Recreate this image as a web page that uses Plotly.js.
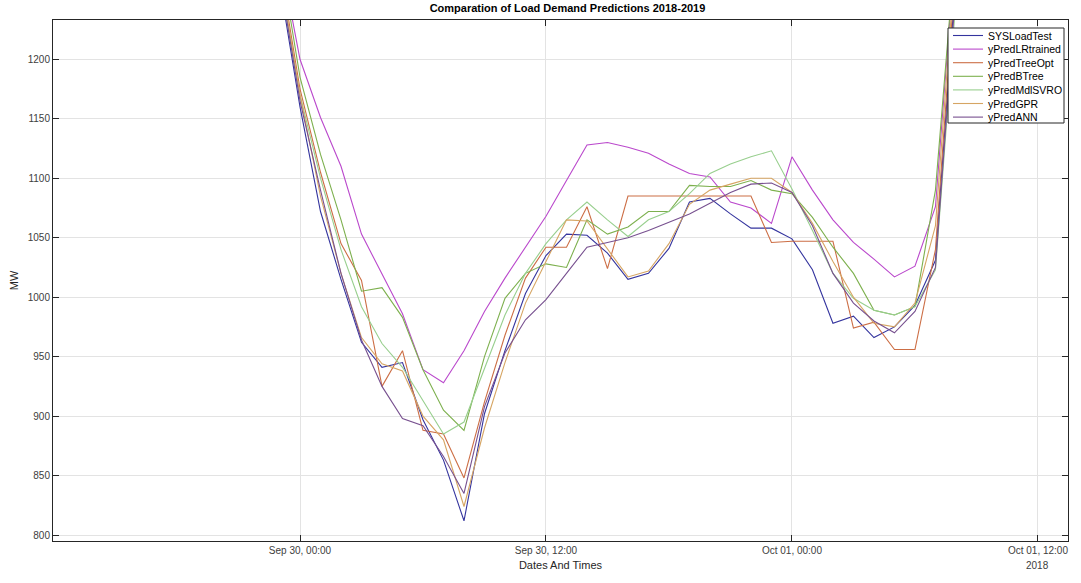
<!DOCTYPE html>
<html>
<head>
<meta charset="utf-8">
<script src="https://cdn.plot.ly/plotly-3.0.1.min.js"></script>
<style>
html,body{margin:0;padding:0;background:#fff;}
#chart{width:1081px;height:583px;}
</style>
</head>
<body>
<div id="chart"></div>
<script>
// Hourly timestamps
var times = ['2018-09-29 23:00','2018-09-30 00:00','2018-09-30 01:00','2018-09-30 02:00','2018-09-30 03:00','2018-09-30 04:00','2018-09-30 05:00','2018-09-30 06:00','2018-09-30 07:00','2018-09-30 08:00','2018-09-30 09:00','2018-09-30 10:00','2018-09-30 11:00','2018-09-30 12:00','2018-09-30 13:00','2018-09-30 14:00','2018-09-30 15:00','2018-09-30 16:00','2018-09-30 17:00','2018-09-30 18:00','2018-09-30 19:00','2018-09-30 20:00','2018-09-30 21:00','2018-09-30 22:00','2018-09-30 23:00','2018-10-01 00:00','2018-10-01 01:00','2018-10-01 02:00','2018-10-01 03:00','2018-10-01 04:00','2018-10-01 05:00','2018-10-01 06:00','2018-10-01 07:00','2018-10-01 08:00'];

var sysLoadTest  = [1265,1160,1072,1015,962,941,945,897,863,812,902,955,1003,1035,1053,1052,1037,1015,1020,1041,1080,1083,1070,1058,1058,1049,1023,978,984,966,975,993,1031,1270];
var yPredLRtrained = [1290,1200,1151,1110,1053,1020,986,939,928,955,988,1016,1042,1068,1098,1128,1130,1126,1121,1112,1104,1101,1080,1075,1062,1118,1090,1065,1046,1032,1017,1026,1076,1300];
var yPredTreeOpt = [1280,1175,1105,1045,1014,925,955,888,885,848,912,968,1016,1042,1042,1076,1024,1085,1085,1085,1085,1085,1085,1085,1046,1047,1047,1047,974,979,956,956,1040,1280];
var yPredBTree   = [1290,1185,1120,1065,1005,1008,983,939,905,888,950,999,1020,1028,1025,1065,1053,1059,1072,1072,1094,1093,1093,1098,1090,1087,1067,1042,1020,989,985,992,1090,1300];
var yPredMdlSVRO = [1270,1170,1100,1040,992,961,941,913,885,895,940,985,1020,1045,1065,1080,1065,1051,1065,1072,1087,1104,1112,1118,1123,1091,1056,1020,999,989,985,992,1023,1250];
var yPredGPR     = [1275,1170,1085,1020,966,944,938,900,880,824,890,945,995,1030,1065,1064,1040,1017,1022,1045,1078,1090,1095,1100,1100,1088,1062,1030,1000,978,975,995,1060,1290];
var yPredANN     = [1270,1165,1090,1020,964,925,898,892,866,835,908,953,981,998,1020,1042,1046,1050,1056,1063,1070,1079,1088,1095,1096,1088,1060,1020,995,980,970,988,1025,1260];

var seriesNames = ['SYSLoadTest','yPredLRtrained','yPredTreeOpt','yPredBTree','yPredMdlSVRO','yPredGPR','yPredANN'];
var seriesData  = [sysLoadTest,yPredLRtrained,yPredTreeOpt,yPredBTree,yPredMdlSVRO,yPredGPR,yPredANN];
var seriesColors = ['#34349E','#BA48CC','#CC6E45','#7DB04E','#98CF8E','#D6A563','#77508F'];

var xTickVals = ['2018-09-30 00:00','2018-09-30 12:00','2018-10-01 00:00','2018-10-01 12:00'];
var xTickText = ['Sep 30, 00:00','Sep 30, 12:00','Oct 01, 00:00','Oct 01, 12:00'];
var yTickVals = [800,850,900,950,1000,1050,1100,1150,1200];

var traces = seriesNames.map(function(n,i){
  return {x: times, y: seriesData[i], name: n, type:'scatter', mode:'lines',
          line:{color: seriesColors[i], width:1.1}, showlegend:false};
});

// plot-area geometry (pixels) used to place a compact MATLAB-style legend
var M = {l:53, r:13, t:20, b:42};
var W = 1081, H = 583;
var pw = W - M.l - M.r, ph = H - M.t - M.b;
function px(x){ return (x - M.l) / pw; }
function py(y){ return 1 - (y - M.t) / ph; }

var font = "Liberation Sans, Arial, Helvetica, sans-serif";
var leg = {x0:948, x1:1064, y0:28, y1:123, row0:35.5, rowStep:13.6, s0:953, s1:983, tx:986};
var shapes = [{type:'rect', xref:'paper', yref:'paper', x0:px(leg.x0), x1:px(leg.x1), y0:py(leg.y1), y1:py(leg.y0),
  fillcolor:'#ffffff', line:{color:'#262626', width:1}, layer:'above'}];
var annotations = [{text:'2018', xref:'paper', yref:'paper', x:0.97, y:0, xanchor:'center', yanchor:'top', yshift:-17, showarrow:false, font:{family:font, size:10, color:'#404040'}}];
seriesNames.forEach(function(n,i){
  var ry = leg.row0 + i*leg.rowStep;
  shapes.push({type:'line', xref:'paper', yref:'paper', x0:px(leg.s0), x1:px(leg.s1), y0:py(ry), y1:py(ry),
    line:{color:seriesColors[i], width:1.1}, layer:'above'});
  annotations.push({text:n, xref:'paper', yref:'paper', x:px(leg.tx), y:py(ry), xanchor:'left', yanchor:'middle',
    showarrow:false, font:{family:font, size:10.5, color:'#000'}});
});

var layout = {
  width:W, height:H,
  margin:M,
  paper_bgcolor:'#ffffff', plot_bgcolor:'#ffffff',
  font:{family:font, size:10, color:'#404040'},
  title:{text:'<b>Comparation of Load Demand Predictions 2018-2019</b>', x:0.525, xanchor:'center', y:0.986, yanchor:'middle', font:{family:font, size:11, color:'#000'}},
  xaxis:{
    type:'date', range:['2018-09-29 11:57','2018-10-01 13:28'],
    tickvals:xTickVals, ticktext:xTickText,
    showgrid:true, gridcolor:'#e3e3e3', gridwidth:1,
    showline:true, linecolor:'#262626', linewidth:1, mirror:'ticks',
    ticks:'inside', ticklen:6, tickcolor:'#262626',
    tickfont:{family:font, size:10, color:'#404040'},
    zeroline:false,
    title:{text:'Dates And Times', font:{family:font, size:11, color:'#262626'}, standoff:6}
  },
  yaxis:{
    range:[795,1233],
    tickvals:yTickVals,
    showgrid:true, gridcolor:'#e3e3e3', gridwidth:1,
    showline:true, linecolor:'#262626', linewidth:1, mirror:'ticks',
    ticks:'inside', ticklen:6, tickcolor:'#262626',
    tickfont:{family:font, size:10, color:'#404040'},
    zeroline:false,
    title:{text:'MW', font:{family:font, size:11, color:'#262626'}, standoff:6}
  },
  showlegend:false,
  shapes:shapes,
  annotations:annotations
};

Plotly.newPlot('chart', traces, layout, {displayModeBar:false, staticPlot:true});
</script>
</body>
</html>
